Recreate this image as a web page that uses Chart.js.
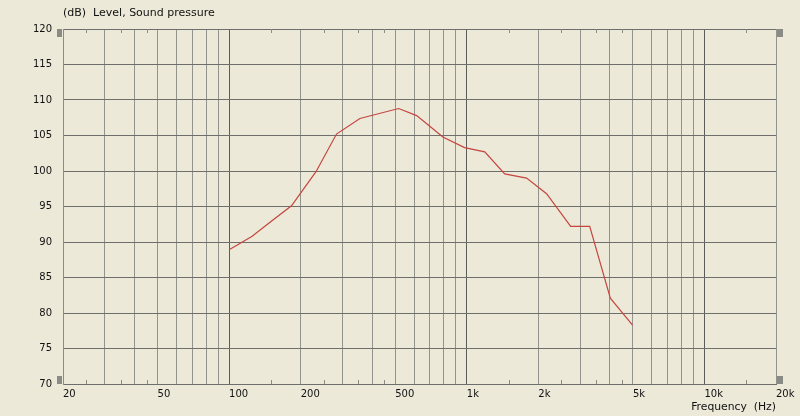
<!DOCTYPE html>
<html>
<head>
<meta charset="utf-8">
<script src="https://cdn.jsdelivr.net/npm/chart.js@4/dist/chart.umd.min.js"></script>
<style>
  html, body { margin: 0; padding: 0; background: #ece9d8; }
  #wrap { width: 800px; height: 416px; }
</style>
</head>
<body>
<div id="wrap"><canvas id="chart" width="800" height="416"></canvas></div>
<script>
// response
const freqHz  = [100, 125, 150, 183, 202, 232, 283, 355, 517, 615, 699, 793, 979, 1190, 1444, 1785, 2166, 2736, 3290, 4018, 4981];
const levelDb = [88.9, 90.8, 92.9, 95.1, 97.1, 99.9, 105.2, 107.4, 108.8, 107.8, 106.3, 104.8, 103.3, 102.7, 99.6, 99.0, 96.8, 92.2, 92.2, 82.1, 78.3];

// axis stuff
const gridHz  = [20, 30, 40, 50, 60, 70, 80, 90, 100, 200, 300, 400, 500, 600, 700, 800, 900,
                 1000, 2000, 3000, 4000, 5000, 6000, 7000, 8000, 9000, 10000, 20000];
const labelHz = [20, 50, 100, 200, 500, 1000, 2000, 5000, 10000, 20000];
const minorHz = [25, 35, 45, 150, 250, 350, 450, 1500, 2500, 3500, 4500, 15000];
const decadeHz = [100, 1000, 10000];
const yMin = 70, yMax = 120, yStep = 5;

const FONT = '"DejaVu Sans", sans-serif';
const fmtHz = v => v >= 1000 ? (v / 1000) + 'k' : String(v);

const decor = {
  id: 'decor',
  afterDraw(chart) {
    const { ctx, chartArea: a, scales: { x } } = chart;
    ctx.save();
    // small ticks top and bottom
    ctx.strokeStyle = '#8c8c86';
    ctx.lineWidth = 1;
    ctx.beginPath();
    minorHz.forEach(v => {
      const px = Math.round(x.getPixelForValue(v)) + 0.5;
      ctx.moveTo(px, a.bottom); ctx.lineTo(px, a.bottom - 4);
      ctx.moveTo(px, a.top); ctx.lineTo(px, a.top + 4);
    });
    ctx.stroke();
    // slider handles in the corners
    ctx.fillStyle = '#8a8a86';
    ctx.fillRect(a.left - 6, a.top, 5, 8);
    ctx.fillRect(a.left - 6, a.bottom - 8, 5, 8);
    ctx.fillRect(a.right + 1, a.top, 6, 8);
    ctx.fillRect(a.right + 1, a.bottom - 8, 6, 8);
    // caption
    ctx.fillStyle = '#111';
    ctx.font = '11px ' + FONT;
    ctx.textBaseline = 'middle';
    ctx.textAlign = 'left';
    ctx.fillText('(dB)  Level, Sound pressure', a.left, 13);
    ctx.restore();
  }
};

new Chart(document.getElementById('chart'), {
  type: 'line',
  data: {
    datasets: [{
      data: freqHz.map((f, i) => ({ x: f, y: levelDb[i] })),
      borderColor: '#c4463f',
      borderWidth: 1.2,
      pointRadius: 0,
      tension: 0,
      fill: false
    }]
  },
  options: {
    responsive: false,
    animation: false,
    layout: { padding: { top: 29, right: 24, bottom: 0, left: 0 } },
    plugins: { legend: { display: false }, tooltip: { enabled: false } },
    scales: {
      x: {
        type: 'logarithmic',
        min: 20,
        max: 20000,
        afterBuildTicks: s => { s.ticks = gridHz.map(v => ({ value: v })); },
        afterFit: s => { s.height = 32; },
        grid: {
          drawTicks: false,
          color: c => decadeHz.includes(c.tick && c.tick.value) ? '#5c5c5a' : '#93938d'
        },
        border: { color: '#6e6e6c' },
        ticks: {
          autoSkip: false,
          maxRotation: 0,
          minRotation: 0,
          align: 'start',
          padding: 4,
          color: '#111',
          font: { family: FONT, size: 10 },
          callback: v => labelHz.includes(v) ? fmtHz(v) : ''
        },
        title: {
          display: true,
          text: 'Frequency  (Hz)',
          align: 'end',
          color: '#111',
          font: { family: FONT, size: 10.8 },
          padding: { top: 0, bottom: 2 }
        }
      },
      y: {
        min: yMin,
        max: yMax,
        afterFit: s => { s.width = 63; },
        grid: { drawTicks: false, color: '#6e6e6c' },
        border: { color: '#8c8c86' },
        ticks: {
          stepSize: yStep,
          padding: 11,
          color: '#111',
          font: { family: FONT, size: 10 }
        }
      }
    }
  },
  plugins: [decor]
});
</script>
</body>
</html>
